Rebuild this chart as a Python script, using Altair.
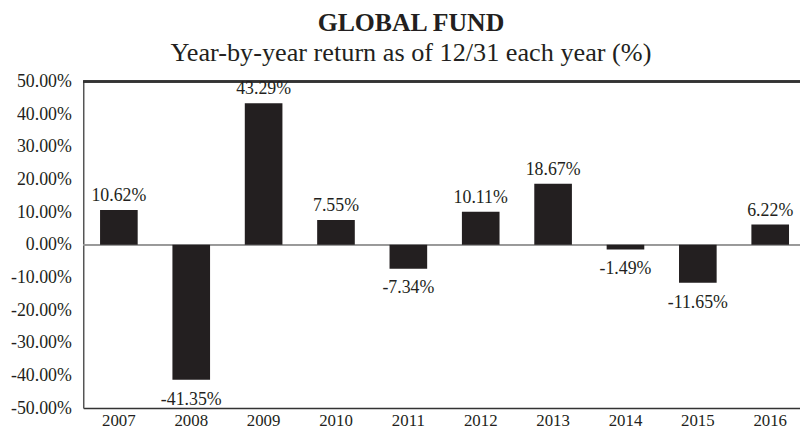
import altair as alt
import pandas as pd

years = ["2007", "2008", "2009", "2010", "2011", "2012", "2013", "2014", "2015", "2016"]
returns = [10.62, -41.35, 43.29, 7.55, -7.34, 10.11, 18.67, -1.49, -11.65, 6.22]
y_ticks = [-50, -40, -30, -20, -10, 0, 10, 20, 30, 40, 50]

df = pd.DataFrame({
    "year": years,
    "ret": returns,
    "label": [f"{v:.2f}%" for v in returns],
})

FONT = "Liberation Serif"
INK = "#231f20"

x_scale = alt.Scale(paddingInner=0.48, paddingOuter=0.192, align=0.605, round=False)
y_scale = alt.Scale(domain=[-50, 50], nice=False)

x_axis = alt.Axis(labelAngle=0, ticks=False, labelPadding=5,
                  labelFont=FONT, labelFontSize=17, labelColor=INK,
                  domainColor="#333333", domainWidth=1.5)
y_axis = alt.Axis(values=y_ticks, grid=False, ticks=False, labelPadding=12,
                  labelOverlap=False,
                  labelFont=FONT, labelFontSize=18, labelColor=INK,
                  domainColor="#555555", domainWidth=1.5,
                  labelExpr="(datum.value < 0 ? '-' : '') + format(abs(datum.value), '.2f') + '%'")

X = alt.X("year:N", sort=years, title=None, scale=x_scale, axis=x_axis)
Y = alt.Y("ret:Q", scale=y_scale, title=None, axis=y_axis)

bars = alt.Chart(df).mark_bar(color=INK).encode(x=X, y=Y)

zero = alt.Chart(df).mark_rule(color="#999999", strokeWidth=1).encode(
    y=alt.Y(datum=0, scale=y_scale, title=None, axis=y_axis))
top = alt.Chart(df).mark_rule(color="#333333", strokeWidth=1.5).encode(
    y=alt.Y(datum=50, scale=y_scale, title=None, axis=y_axis))

pos_labels = alt.Chart(df).transform_filter("datum.ret >= 0").mark_text(
    font=FONT, fontSize=18, color=INK, baseline="bottom", dy=-5
).encode(x=X, y=Y, text="label:N")

neg_labels = alt.Chart(df).transform_filter("datum.ret < 0").mark_text(
    font=FONT, fontSize=18, color=INK, baseline="top", dy=11
).encode(x=X, y=Y, text="label:N")

chart = alt.layer(zero, bars, top, pos_labels, neg_labels).properties(
    width=724,
    height=330,
    autosize=alt.AutoSizeParams(type="none"),
    padding={"left": 76, "top": 72, "right": 0, "bottom": 20},
    title=alt.TitleParams(
        text="GLOBAL FUND",
        subtitle="Year-by-year return as of 12/31 each year (%)",
        font=FONT, fontSize=26, fontWeight="bold", color=INK,
        subtitleFont=FONT, subtitleFontSize=26.5, subtitleColor=INK,
        subtitlePadding=4, offset=6, anchor="middle", dx=-31,
    ),
).configure_view(stroke=None).configure_title(font=FONT, subtitleFont=FONT).configure_axis(labelOverlap=False)

chart.save("out.html", embed_options={"renderer": "svg", "actions": False})
